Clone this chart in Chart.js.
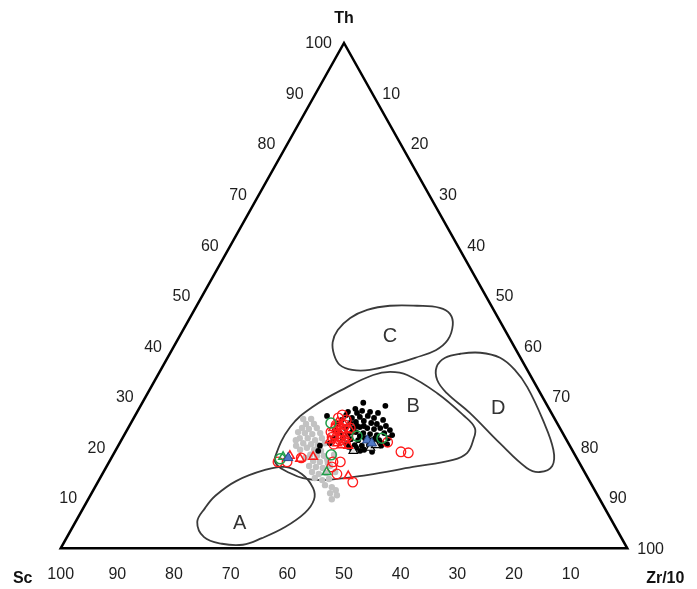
<!DOCTYPE html>
<html>
<head>
<meta charset="utf-8">
<script src="https://cdn.jsdelivr.net/npm/chart.js@4.4.1/dist/chart.umd.min.js"></script>
<style>
  html, body { margin: 0; padding: 0; background: #ffffff; }
  #wrap { width: 697px; height: 589px; }
</style>
</head>
<body>
<div id="wrap"><canvas id="c" width="697" height="589"></canvas></div>
<script>
// Th – Sc – Zr/10 ternary diagram.
// Every composition is written as [Th, Zr/10] in percent; Sc = 100 - Th - Zr/10.

const apexNames = { th: 'Th', sc: 'Sc', zr: 'Zr/10' };
const thTicks = [10, 20, 30, 40, 50, 60, 70, 80, 90, 100];   // left edge
const zrTicks = [10, 20, 30, 40, 50, 60, 70, 80, 90, 100];   // right edge
const scTicks = [100, 90, 80, 70, 60, 50, 40, 30, 20, 10];   // base

// Outline of the triangle
const frame = [[0, 50], [0, 100], [100, 0], [0, 0], [0, 50]];

// Discrimination fields
const fieldA = [[5.2,21.5],[8.0,21.5],[10.4,22.1],[13.3,24.3],[15.5,28.3],[16.1,31.5],[14.7,35.2],[11.9,38.6],[9.6,39.9],[7.0,39.6],[4.2,37.5],[2.0,34.5],[0.7,31.8],[0.9,28.0],[2.2,24.2]];
const fieldB = [[18.1,28.8],[24.0,28.5],[28.0,30.5],[31.9,34.6],[34.3,38.0],[34.9,40.7],[34.3,44.0],[30.7,51.1],[26.4,57.8],[23.8,61.2],[21.4,62.1],[18.9,62.3],[17.5,60.5],[16.1,54.1],[14.5,46.8],[13.5,39.5],[13.9,35.8],[14.9,33.0],[16.5,29.9]];
const fieldC = [[40.8,27.6],[43.2,27.3],[45.6,28.3],[47.2,30.5],[48.0,34.1],[48.0,38.9],[47.6,43.1],[46.4,45.5],[44.2,47.1],[41.2,47.7],[39.2,46.6],[37.7,43.7],[36.5,40.8],[35.3,36.9],[35.3,33.8],[36.3,31.1],[38.3,29.1]];
const fieldD = [[35.9,48.4],[37.7,49.0],[38.5,51.3],[38.7,54.7],[37.7,58.7],[35.3,62.5],[31.9,66.4],[25.4,72.4],[19.5,77.2],[16.3,78.6],[15.1,77.0],[15.9,74.3],[20.8,67.1],[26.8,58.8],[30.7,52.8],[33.3,49.8]];
const fieldNames = ['A', 'B', 'C', 'D'];
const fieldNamePos = [[5.0,29.1],[28.0,48.2],[42.0,37.1],[27.6,63.4]];

// Samples
const grayDots = [[25.6,31.4],[24.6,31.0],[24.6,32.4],[23.8,30.7],[23.6,32.0],[23.8,33.3],[22.8,31.7],[22.6,33.1],[22.8,34.4],[21.8,31.3],[21.8,32.7],[21.4,34.2],[21.8,35.2],[20.8,32.4],[20.6,33.9],[20.4,35.2],[20.8,36.2],[19.9,33.5],[19.5,35.0],[19.3,36.3],[19.5,32.5],[18.5,34.8],[18.3,36.1],[18.3,37.3],[17.9,34.2],[17.3,35.9],[17.1,37.2],[17.5,38.3],[16.3,35.7],[16.1,37.0],[15.9,38.3],[16.3,39.4],[15.1,36.8],[14.7,38.2],[14.9,39.4],[13.9,37.9],[13.5,39.4],[13.7,40.5],[12.5,40.4],[12.1,41.8],[11.5,42.8],[10.9,42.1],[10.5,43.5],[9.7,43.0],[16.9,38.7],[20.3,31.4],[18.5,39.0],[15.1,40.9],[23.0,30.4],[21.4,30.8],[25.6,30.0]];
const blackDots = [[26.2,33.9],[28.8,39.0],[28.2,43.2],[22.4,47.3],[26.8,38.9],[26.4,37.2],[25.8,38.5],[26.0,39.8],[26.2,41.1],[25.8,42.4],[24.8,38.7],[25.0,39.6],[25.2,40.9],[24.8,42.4],[24.6,43.5],[23.8,38.3],[23.8,39.7],[24.0,40.8],[23.8,42.2],[23.6,43.5],[23.8,44.5],[22.8,37.9],[22.6,39.4],[23.0,40.6],[22.8,42.0],[22.6,43.3],[22.4,44.6],[22.8,45.7],[21.8,38.9],[21.6,40.4],[21.4,41.8],[21.8,42.8],[21.4,44.2],[21.4,45.5],[20.6,40.1],[20.4,41.7],[20.3,43.0],[20.4,44.2],[20.6,45.3],[19.5,41.7],[19.3,43.2],[23.4,36.7],[21.8,37.2],[20.8,37.1],[20.3,35.6],[19.3,35.8],[24.6,36.6],[25.4,36.9],[21.8,46.9],[20.3,46.4],
  [27.0,37.2],[27.6,38.2],[27.2,39.6],[27.0,41.1],[26.8,42.6],[25.4,44.2],[24.2,45.3],[23.4,46.4],[24.2,40.2],[24.2,41.4],[23.0,39.9],[22.2,41.7],[21.6,43.4],[21.8,44.6],[20.8,46.3],[20.6,47.3],[19.9,42.2],[19.5,43.8],[19.1,45.4],[20.1,40.7]];
const blackTriangles = [[19.3,42.0],[19.9,44.7],[20.4,45.4]];
const redCircles = [[26.4,36.5],[24.4,36.4],[24.4,38.0],[23.0,36.2],[22.2,39.6],[21.4,38.6],[20.6,37.9],[23.8,39.2],[25.8,36.1],[25.4,37.7],[22.0,36.9],[17.1,29.8],[17.1,31.4],[17.9,33.5],[17.1,39.5],[17.1,40.8],[16.1,39.8],[14.7,41.4],[13.1,45.0],[21.0,47.2],[19.1,50.5],[18.9,51.9]];
const redTriangles = [[25.0,36.4],[23.4,38.1],[22.2,37.3],[21.4,39.6],[22.8,37.9],[21.4,36.8],[20.8,38.4],[24.6,37.7],[20.3,40.6],[23.8,36.2],[21.8,38.2],[20.4,39.4],[23.4,36.9],[22.2,39.1],[24.2,37.4],[23.4,39.4],[18.1,35.5],[18.3,31.3],[17.7,33.4],[14.3,43.6]];
const greenCircles = [[24.8,35.3],[22.2,41.2],[21.8,45.8],[18.5,38.5],[17.7,29.9]];
const greenTriangles = [[15.1,39.4],[18.1,30.2]];
const blueTriangles = [[21.4,43.4],[20.8,44.5],[17.9,31.2]];

// [Th, Zr/10] -> plot plane (x along the base, y = Th)
const toXY = ([th, zr]) => ({ x: zr + th / 2, y: th });

// Closed smooth outline: wrap one point on each side so the joint is smooth,
// then hide the two wrap-around segments.
function closedCurve(pts) {
  const xy = pts.map(toXY);
  return [xy[xy.length - 1], ...xy, xy[0], xy[1]];
}
function fieldDataset(pts) {
  const n = pts.length;
  return {
    data: closedCurve(pts),
    showLine: true,
    tension: 0.4,
    borderColor: '#3a3a3a',
    borderWidth: 1.8,
    pointRadius: 0,
    fill: false,
    order: 90,
    segment: {
      borderColor: c => (c.p0DataIndex === 0 || c.p0DataIndex === n + 1) ? 'rgba(0,0,0,0)' : undefined
    }
  };
}
function markers(pts, style, order) {
  return Object.assign({ data: pts.map(toXY), showLine: false, order: order }, style);
}

const RED = '#ff1a1a', GREEN = '#1f9e48';

const datasets = [
  {
    data: frame.map(toXY), showLine: true, tension: 0, borderColor: '#000000',
    borderWidth: 2.5, borderJoinStyle: 'miter', pointRadius: 0, order: 100
  },
  fieldDataset(fieldA), fieldDataset(fieldB), fieldDataset(fieldC), fieldDataset(fieldD),
  markers(grayDots, { pointStyle: 'circle', pointRadius: 3.2, backgroundColor: '#c2c2c2', borderColor: '#c2c2c2', borderWidth: 0 }, 80),
  markers(blackDots, { pointStyle: 'circle', pointRadius: 2.9, backgroundColor: '#000000', borderColor: '#000000', borderWidth: 0 }, 70),
  markers(blackTriangles, { pointStyle: 'triangle', pointRadius: 5, backgroundColor: 'rgba(255,255,255,0.9)', borderColor: '#000000', borderWidth: 1.2 }, 60),
  markers(redCircles, { pointStyle: 'circle', pointRadius: 4.8, backgroundColor: 'rgba(0,0,0,0)', borderColor: RED, borderWidth: 1.3 }, 50),
  markers(redTriangles, { pointStyle: 'triangle', pointRadius: 5, backgroundColor: 'rgba(0,0,0,0)', borderColor: RED, borderWidth: 1.5 }, 40),
  markers(greenCircles, { pointStyle: 'circle', pointRadius: 5, backgroundColor: 'rgba(0,0,0,0)', borderColor: GREEN, borderWidth: 1.5 }, 30),
  markers(greenTriangles, { pointStyle: 'triangle', pointRadius: 5, backgroundColor: 'rgba(0,0,0,0)', borderColor: GREEN, borderWidth: 1.5 }, 25),
  markers(blueTriangles, { pointStyle: 'triangle', pointRadius: 5.5, backgroundColor: '#5079c6', borderColor: '#2b4a8a', borderWidth: 1 }, 10)
];

// Tick labels, apex names and field letters
const ternaryText = {
  id: 'ternaryText',
  afterDatasetsDraw(chart) {
    const { ctx, scales: { x, y } } = chart;
    const P = (th, zr) => [x.getPixelForValue(zr + th / 2), y.getPixelForValue(th)];
    ctx.save();
    ctx.fillStyle = '#1e1e1e';
    ctx.font = '16px "Liberation Sans", Arial, sans-serif';
    ctx.textBaseline = 'middle';

    ctx.textAlign = 'right';
    thTicks.forEach(t => { const [px, py] = P(t, 0); ctx.fillText(String(t), px - 12, py + 1); });

    ctx.textAlign = 'left';
    zrTicks.forEach(z => { const [px, py] = P(100 - z, z); ctx.fillText(String(z), px + 10, py + 1); });

    ctx.textAlign = 'center';
    scTicks.forEach(s => { const [px, py] = P(0, 100 - s); ctx.fillText(String(s), px, py + 26); });

    ctx.font = 'bold 16px "Liberation Sans", Arial, sans-serif';
    ctx.fillStyle = '#111111';
    let [tx, ty] = P(100, 0);
    ctx.fillText(apexNames.th, tx, ty - 24);
    [tx, ty] = P(0, 0);
    ctx.fillText(apexNames.sc, tx - 38, ty + 30);
    [tx, ty] = P(0, 100);
    ctx.fillText(apexNames.zr, tx + 38, ty + 30);

    ctx.font = '20px "Liberation Sans", Arial, sans-serif';
    ctx.fillStyle = '#333333';
    fieldNames.forEach((name, i) => {
      const [fx, fy] = P(fieldNamePos[i][0], fieldNamePos[i][1]);
      ctx.fillText(name, fx, fy);
    });
    ctx.restore();
  }
};

new Chart(document.getElementById('c'), {
  type: 'scatter',
  data: { datasets },
  options: {
    responsive: false,
    devicePixelRatio: 1,
    animation: false,
    layout: { padding: { left: 60.7, right: 69.7, top: 43, bottom: 40.7 } },
    scales: {
      x: { type: 'linear', min: 0, max: 100, display: false },
      y: { type: 'linear', min: 0, max: 100, display: false }
    },
    plugins: { legend: { display: false }, tooltip: { enabled: false } },
    elements: { line: { capBezierPoints: false } },
    datasets: { scatter: { clip: false } }
  },
  plugins: [ternaryText]
});
</script>
</body>
</html>
